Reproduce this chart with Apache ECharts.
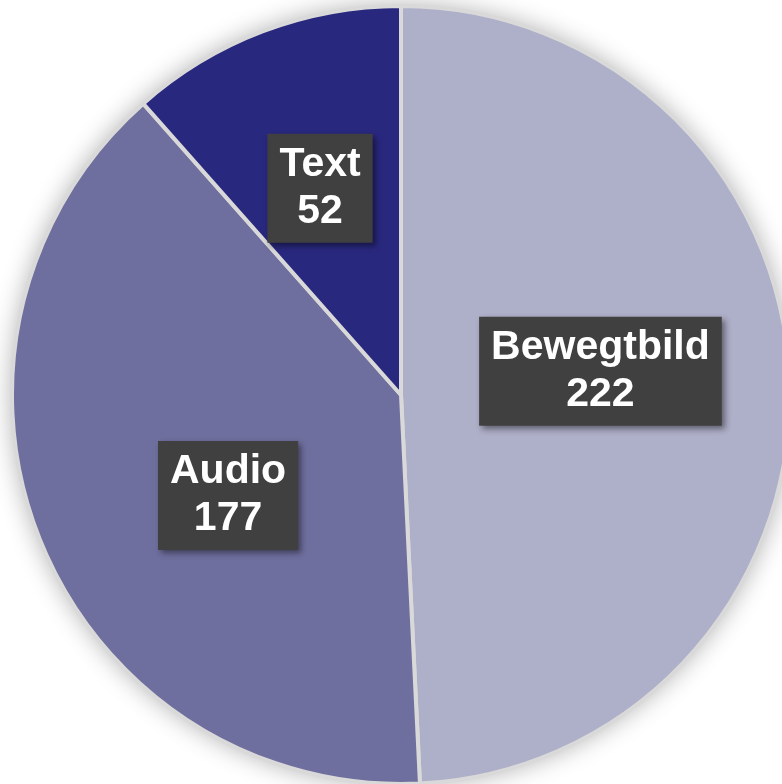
<!DOCTYPE html>
<html>
<head>
<meta charset="utf-8">
<style>
  html, body { margin: 0; padding: 0; background: #ffffff; }
  #chart { width: 782px; height: 784px; }
</style>
<script src="https://cdn.jsdelivr.net/npm/echarts@6/dist/echarts.min.js"></script>
</head>
<body>
<div id="chart"></div>
<script>
// Media types and their counts
const categories = ['Bewegtbild', 'Audio', 'Text'];
const counts = [222, 177, 52];
const sliceColors = ['#aeafc8', '#6f6f9f', '#29287f'];

// Fine placement of the boxed labels inside each slice
const labelNudge = { Bewegtbild: [2, -19], Audio: [10, 26], Text: [-11, -22] };

const chart = echarts.init(document.getElementById('chart'), null, { renderer: 'canvas' });

const pieData = categories.map((name, i) => ({
  name: name,
  value: counts[i],
  itemStyle: { color: sliceColors[i] },
  label: { offset: labelNudge[name] }
}));

const CENTER = [401, 395];
const RADIUS = 390;

chart.setOption({
  backgroundColor: '#ffffff',
  animation: false,
  series: [
    {
      // soft drop shadow and grey separator colour behind the slices
      type: 'pie',
      silent: true,
      center: CENTER,
      radius: [0, RADIUS],
      z: 1,
      label: { show: false },
      labelLine: { show: false },
      data: [{ value: 1, name: '' }],
      itemStyle: {
        color: '#d9d9d9',
        shadowBlur: 24,
        shadowColor: 'rgba(0,0,0,0.30)'
      },
      emphasis: { disabled: true },
      tooltip: { show: false }
    },
    {
      type: 'pie',
      center: CENTER,
      radius: [0, RADIUS - 1],
      z: 2,
      startAngle: 90,
      clockwise: true,
      avoidLabelOverlap: false,
      data: pieData,
      itemStyle: {
        borderColor: '#d9d9d9',
        borderWidth: 4
      },
      label: {
        show: true,
        position: 'inside',
        formatter: '{b}\n{c}',
        fontFamily: 'Liberation Sans, Arial, sans-serif',
        fontWeight: 'bold',
        fontSize: 41,
        lineHeight: 47,
        color: '#ffffff',
        backgroundColor: '#404040',
        padding: [9, 12, 6, 12],
        shadowBlur: 6,
        shadowOffsetX: 3,
        shadowOffsetY: 3,
        shadowColor: 'rgba(0,0,0,0.45)'
      },
      labelLine: { show: false },
      emphasis: { disabled: true }
    }
  ]
});
</script>
</body>
</html>
